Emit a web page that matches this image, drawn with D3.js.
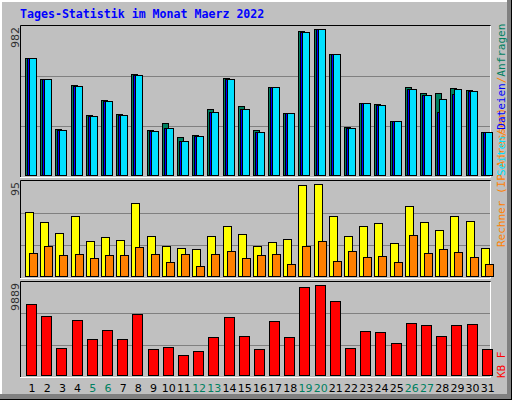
<!DOCTYPE html>
<html><head><meta charset="utf-8">
<script src="https://cdn.jsdelivr.net/npm/d3@7"></script>
<style>body{margin:0;background:#fff}svg{display:block}</style>
</head><body><div id="chart"></div>
<script>
const days = d3.range(1, 32)
const weekend = [5, 6, 12, 13, 19, 20, 26, 27]
const anfragen = [786,646,312,606,405,506,412,679,305,352,259,272,446,653,466,305,593,419,967,982,813,325,486,479,365,593,552,552,586,572,292]
const dateien  = [786,646,305,599,399,499,405,673,299,319,232,265,426,646,446,292,593,419,960,982,813,319,486,472,365,579,539,426,546,566,292]
const seiten   = [786,646,305,599,399,499,405,673,299,319,232,265,426,646,446,292,593,419,960,982,813,319,486,472,365,579,539,512,579,566,292]
const besuche  = [66,56,45,62,37,41,38,76,42,32,30,29,42,52,44,32,36,39,94,95,62,42,52,55,35,73,56,48,62,57,30]
const rechner  = [25,32,22,24,19,22,22,31,23,15,23,11,23,27,19,22,23,13,32,37,16,27,20,21,15,43,25,29,26,20,13]
const kbytes   = [7826,6522,3043,6087,4022,5000,4022,6739,2935,3152,2283,2717,4239,6413,4348,2935,5978,4239,9674,9889,8152,3043,4891,4783,3587,5761,5543,4348,5543,5652,2935]

const W = 512, H = 400
const svg = d3.select('#chart').append('svg').attr('width', W).attr('height', H)

// frame
svg.append('rect').attr('width', W).attr('height', H).attr('fill', '#000')
svg.append('rect').attr('width', W - 1).attr('height', H - 1).attr('fill', '#808080')
svg.append('rect').attr('width', W - 5).attr('height', H - 6).attr('fill', '#fff')
svg.append('rect').attr('x', 2).attr('y', 2).attr('width', W - 7).attr('height', H - 8).attr('fill', '#c0c0c0')

svg.append('text').attr('x', 20).attr('y', 18)
  .attr('font-family', 'DejaVu Sans Mono').attr('font-weight', 'bold').attr('font-size', 11.6)
  .attr('fill', '#0000ff').text('Tages-Statistik im Monat Maerz 2022')

const x = d3.scaleBand().domain(days).range([20, 491])
const mono = 'DejaVu Sans Mono'

function panel(top, bottom, max, label) {
  const g = svg.append('g')
  g.append('rect').attr('x', 20).attr('y', top).attr('width', 471).attr('height', bottom - top)
    .attr('fill', '#c0c0c0')
  const h = (bottom - top) / 3
  ;[1, 2].forEach(i => g.append('line').attr('x1', 21).attr('x2', 490)
    .attr('y1', Math.round(top + h * i) + 0.5).attr('y2', Math.round(top + h * i) + 0.5)
    .attr('stroke', '#808080'))
  g.append('path').attr('d', `M20.5,${bottom}V${top + 0.5}H490.5`).attr('fill', 'none').attr('stroke', '#000')
  g.append('path').attr('d', `M490.5,${top + 1}V${bottom + 0.5}H20`).attr('fill', 'none').attr('stroke', '#fff')
  svg.append('text').attr('transform', `translate(19,${top + 2}) rotate(-90)`)
    .attr('text-anchor', 'end').attr('font-family', 'DejaVu Sans').attr('font-size', 11)
    .attr('fill', '#303030').text(label)
  return d3.scaleLinear().domain([0, max]).range([bottom - 1, top + 4])
}

function bars(y, data, color, off, w) {
  svg.append('g').selectAll('rect').data(data).join('rect')
    .attr('x', (d, i) => Math.round(x(days[i])) + off + 0.5)
    .attr('y', d => Math.round(y(d)) + 0.5)
    .attr('width', w)
    .attr('height', d => y(0) - Math.round(y(d)) - 1)
    .attr('fill', color).attr('stroke', '#000')
}

const y1 = panel(25, 177, 982, '982')
bars(y1, anfragen, '#008060', 5, 6)
bars(y1, dateien, '#0000ff', 7, 6)
bars(y1, seiten, '#00e0ff', 9, 7)

const y2 = panel(180, 278, 95, '95')
bars(y2, besuche, '#ffff00', 5, 8)
bars(y2, rechner, '#ff8000', 9, 8)

const y3 = panel(281, 377, 9889, '9889')
bars(y3, kbytes, '#ff0000', 6, 10)

// legends (rotated, reading bottom to top)
function legend(bottomY, parts) {
  const t = svg.append('text').attr('transform', `translate(505,${bottomY}) rotate(-90)`)
    .attr('font-family', mono).attr('font-size', 11)
  parts.forEach(([s, c]) => t.append('tspan').attr('fill', c).text(s))
}
legend(247, [['Rechner (IP-Adressen)', '#ff8000']])
legend(176, [['Seiten', '#00e0ff'], ['/', '#ff8000'], ['Dateien', '#0000ff'], ['/', '#ff8000'], ['Anfragen', '#008060']])
legend(378, [['KB F', '#ff0000']])

svg.append('g').selectAll('text').data(days).join('text')
  .attr('x', d => x(d) + 12).attr('y', 392).attr('text-anchor', 'middle')
  .attr('font-family', 'DejaVu Sans').attr('font-size', 11)
  .attr('fill', d => weekend.includes(d) ? '#008060' : '#000').text(d => d)
</script></body></html>
